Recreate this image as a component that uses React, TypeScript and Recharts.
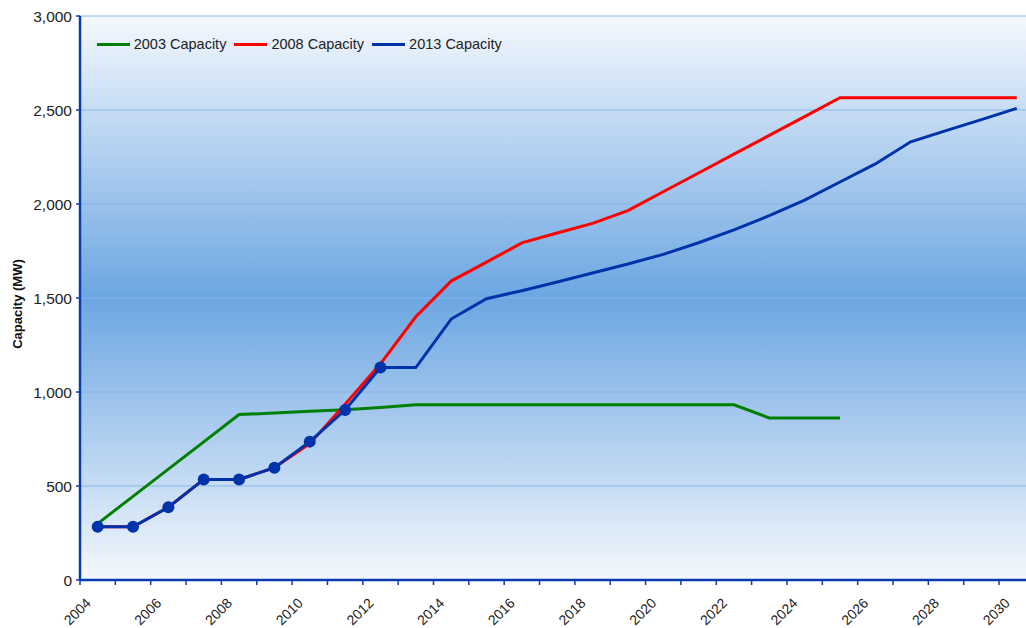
import React from "react";
import {
  LineChart,
  Line,
  XAxis,
  YAxis,
  CartesianGrid,
  Legend,
} from "recharts";

const years = [
  2004, 2005, 2006, 2007, 2008, 2009, 2010, 2011, 2012, 2013, 2014, 2015, 2016,
  2017, 2018, 2019, 2020, 2021, 2022, 2023, 2024, 2025, 2026, 2027, 2028, 2029,
  2030,
];

const cap2003 = [
  300, 445, 590, 735, 880, 888, 897, 905, 918, 932, 932, 932, 932, 932, 932,
  932, 932, 932, 932, 862, 862, 862, null, null, null, null, null,
];

const cap2008 = [
  283, 283, 387, 535, 535, 597, 725, 935, 1150, 1400, 1590, 1691, 1793, 1846,
  1897, 1965, 2065, 2165, 2265, 2365, 2465, 2565, 2565, 2565, 2565, 2565, 2565,
];

const cap2013 = [
  283, 283, 387, 535, 535, 597, 736, 904, 1130, 1130, 1388, 1496, 1539, 1585,
  1633, 1681, 1732, 1794, 1862, 1938, 2021, 2117, 2213, 2331, 2390, 2449, 2509,
];

const yTicks = [0, 500, 1000, 1500, 2000, 2500, 3000];

// markers are only drawn on the historical part of the 2013 series
const lastMarkedYear = 2012;

const AXIS = "#0a3cb0";
const FONT = "'Liberation Sans', Arial, sans-serif";

const data = years.map((year, i) => ({
  year,
  c2003: cap2003[i],
  c2008: cap2008[i],
  c2013: cap2013[i],
}));

// ticks at category boundaries (tick marks) and centres (labels)
const xTicks = [
  ...years.flatMap((y) => [y - 0.5, y]),
  years[years.length - 1] + 0.5,
];

const XTick = ({ x, y, payload }: any) => {
  const v = payload.value;
  if (!Number.isInteger(v)) {
    return (
      <line x1={x} x2={x} y1={y} y2={y + 5} stroke={AXIS} strokeWidth={1.5} />
    );
  }
  if (v % 2 !== 0) return <g />;
  const px = x - 6;
  const py = y + 24;
  return (
    <text
      x={px}
      y={py}
      textAnchor="end"
      transform={`rotate(-45 ${px} ${py})`}
      fontSize={14}
      fontFamily={FONT}
      fill="#222"
    >
      {v}
    </text>
  );
};

const YLabel = ({ viewBox }: any) => {
  const cx = viewBox.x + 17;
  const cy = viewBox.y + viewBox.height / 2 + 6;
  return (
    <text
      x={cx}
      y={cy}
      textAnchor="middle"
      dominantBaseline="central"
      transform={`rotate(-90 ${cx} ${cy})`}
      fontSize={13}
      fontWeight="bold"
      fontFamily={FONT}
      fill="#111"
    >
      Capacity (MW)
    </text>
  );
};

const LegendContent = ({ payload }: any) => (
  <div style={{ display: "flex", alignItems: "center", fontFamily: FONT }}>
    {(payload || []).map((p: any) => (
      <div
        key={p.value}
        style={{ display: "flex", alignItems: "center", marginRight: 8 }}
      >
        <div
          style={{ width: 33, height: 3, background: p.color, marginRight: 4 }}
        />
        <span style={{ fontSize: 14.5, color: "#222", lineHeight: "17px" }}>
          {p.value}
        </span>
      </div>
    ))}
  </div>
);

const renderBlueDot = (props: any) => {
  const { cx, cy, index, payload } = props;
  if (payload.year > lastMarkedYear) return <g key={`d${index}`} />;
  return <circle key={`d${index}`} cx={cx} cy={cy} r={6} fill="#0033aa" />;
};

export default function App() {
  return (
    <div
      style={{
        position: "absolute",
        top: 0,
        left: 0,
        width: 1026,
        height: 628,
        overflow: "hidden",
        background: "#fff",
      }}
    >
      <LineChart
        width={1040}
        height={628}
        data={data}
        margin={{ top: 16, right: 5.6, left: 0, bottom: 0 }}
      >
        <defs>
          <linearGradient id="plotBg" x1="0" y1="0" x2="0" y2="1">
            <stop offset="0%" stopColor="#f4f8fd" />
            <stop offset="50%" stopColor="#6ca6e2" />
            <stop offset="100%" stopColor="#f4f8fd" />
          </linearGradient>
        </defs>
        <CartesianGrid
          vertical={false}
          stroke="#86b6ea"
          strokeWidth={1.2}
          fill="url(#plotBg)"
          fillOpacity={1}
        />
        <XAxis
          dataKey="year"
          type="number"
          domain={[2003.5, 2030.5]}
          ticks={xTicks}
          interval={0}
          allowDecimals
          tickLine={false}
          tickSize={0}
          tickMargin={0}
          tick={<XTick />}
          height={48}
          axisLine={{ stroke: AXIS, strokeWidth: 2.5 }}
        />
        <YAxis
          domain={[0, 3000]}
          ticks={yTicks}
          interval={0}
          width={80}
          tickSize={4}
          tickMargin={4}
          tickFormatter={(v: number) => v.toLocaleString("en-US")}
          tick={{ fontSize: 15.5, fill: "#222", fontFamily: FONT }}
          tickLine={{ stroke: AXIS, strokeWidth: 1.5 }}
          axisLine={{ stroke: AXIS, strokeWidth: 2.5 }}
          label={<YLabel />}
        />
        <Legend
          layout="horizontal"
          verticalAlign="middle"
          align="center"
          content={<LegendContent />}
          wrapperStyle={{ top: 35.5, left: 96.7, width: "auto" }}
        />
        <Line
          dataKey="c2003"
          name="2003 Capacity"
          stroke="#008000"
          strokeWidth={3}
          dot={false}
          activeDot={false}
          isAnimationActive={false}
        />
        <Line
          dataKey="c2008"
          name="2008 Capacity"
          stroke="#ff0000"
          strokeWidth={3}
          dot={false}
          activeDot={false}
          isAnimationActive={false}
        />
        <Line
          dataKey="c2013"
          name="2013 Capacity"
          stroke="#0033aa"
          strokeWidth={3}
          dot={renderBlueDot}
          activeDot={false}
          isAnimationActive={false}
        />
      </LineChart>
    </div>
  );
}
